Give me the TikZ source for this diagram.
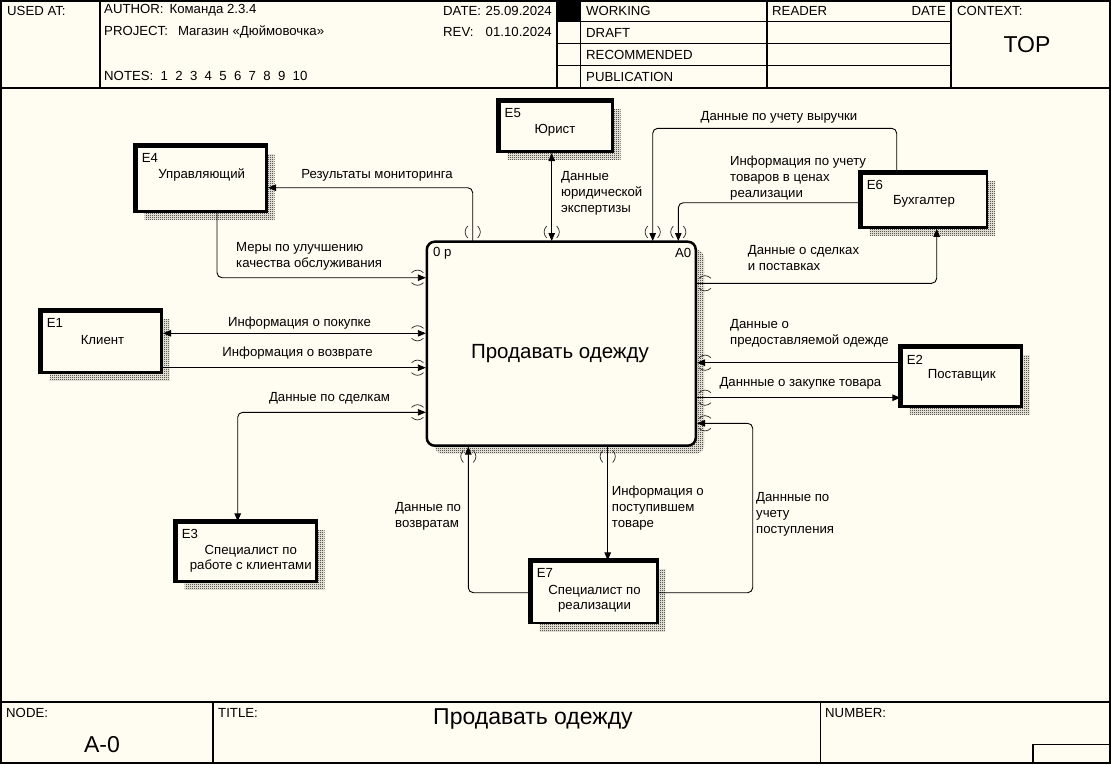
\documentclass[tikz,border=0pt]{standalone}
\usepackage{fontspec}
\setmainfont{Liberation Sans}
\usetikzlibrary{arrows.meta,patterns,calc}
\definecolor{bg}{RGB}{255,252,241}
\pgfdeclarepatternformonly{checker}{\pgfpointorigin}{\pgfpoint{2pt}{2pt}}{\pgfpoint{2pt}{2pt}}{%
  \pgfpathrectangle{\pgfpointorigin}{\pgfpoint{1pt}{1pt}}%
  \pgfpathrectangle{\pgfpoint{1pt}{1pt}}{\pgfpoint{1pt}{1pt}}%
  \pgfusepath{fill}}
\newcommand\entbox[7]{%
  \pgfmathsetmacro\ew{#4-#2}\pgfmathsetmacro\eh{#5-#3}%
  \pgfmathsetmacro\ecx{(#2+#4)/2}\pgfmathsetmacro\ecy{(#3+#5)/2}%
  \fill[shadowpat] (#2+8,#3+8) rectangle (#4+8,#5+8);
  \node[ent, minimum width=\ew pt, minimum height=\eh pt] (#1) at (\ecx,\ecy) {};
  \draw[line width=4.5pt] (#1.south west) -- (#1.north west) -- (#1.north east);
  \node[txt, anchor=west] (#1id) at (#2+5,#3+11.7) {#6};
  \node[txt, align=center] (#1name) at #7;
}
\newcommand\tunv[2]{%
  \draw[tun] (#1-5,#2-6) .. controls (#1-8.5,#2-2) and (#1-8.5,#2+2) .. (#1-5,#2+6);
  \draw[tun] (#1+5,#2-6) .. controls (#1+8.5,#2-2) and (#1+8.5,#2+2) .. (#1+5,#2+6);
}
\newcommand\tunh[2]{%
  \draw[tun] (#1-6,#2-5) .. controls (#1-2,#2-8.5) and (#1+2,#2-8.5) .. (#1+6,#2-5);
  \draw[tun] (#1-6,#2+5) .. controls (#1-2,#2+8.5) and (#1+2,#2+8.5) .. (#1+6,#2+5);
}
\begin{document}
\begin{tikzpicture}[x=1pt,y=-1pt,
  txt/.style={font=\fontsize{13.2}{15.8}\selectfont, inner sep=0pt},
  lbl/.style={txt, anchor=west, align=left},
  arr/.style={line width=0.9pt, rounded corners=5pt, -{Triangle[length=8pt,width=6.5pt]}},
  arrb/.style={line width=0.9pt, rounded corners=5pt, {Triangle[length=8pt,width=6.5pt]}-{Triangle[length=8pt,width=6.5pt]}},
  tun/.style={line width=0.7pt, black!85},
  ent/.style={draw, line width=2.5pt, fill=bg, inner sep=0pt},
  shadowpat/.style={pattern=checker, pattern color=black},
  frm/.style={line width=1.4pt},
  big/.style={font=\fontsize{23}{26}\selectfont, inner sep=0pt},
]
\useasboundingbox (0,0) rectangle (1111,764);
\fill[bg] (0,0) rectangle (1111,764);

% ---------- frame ----------
\draw[line width=2pt] (1,1) rectangle (1110,763);
\draw[frm] (0,88) -- (1111,88);
\draw[frm] (100,0) -- (100,88);
\draw[frm] (557,0) -- (557,88);
\draw[frm] (580.5,0) -- (580.5,88);
\draw[frm] (767,0) -- (767,88);
\draw[frm] (951,0) -- (951,88);
\fill (557,0) rectangle (580.5,21.5);
\draw[frm] (557,21.5) -- (951,21.5);
\draw[frm] (557,43.5) -- (951,43.5);
\draw[frm] (557,65.5) -- (951,65.5);

\node[txt,anchor=west] (usedat) at (7,10.5) {USED AT:};
\node[txt,anchor=west] (author) at (104,10.5) {AUTHOR:\hspace{6pt}Команда 2.3.4};
\node[txt,anchor=west] (project) at (104,31.5) {PROJECT:\hspace{10pt}Магазин «Дюймовочка»};
\node[txt,anchor=west] (notes) at (104,76) {NOTES:\ \ 1\ \ 2\ \ 3\ \ 4\ \ 5\ \ 6\ \ 7\ \ 8\ \ 9\ \ 10};
\node[txt,anchor=west] (datel) at (443,10.5) {DATE:};
\node[txt,anchor=east] (datev) at (552,10.5) {25.09.2024};
\node[txt,anchor=west] (revl) at (443,31.5) {REV:};
\node[txt,anchor=east] (revv) at (552,31.5) {01.10.2024};
\node[txt,anchor=west] (working) at (586,10.5) {WORKING};
\node[txt,anchor=west] (draft) at (586,32.5) {DRAFT};
\node[txt,anchor=west] (recom) at (586,54.5) {RECOMMENDED};
\node[txt,anchor=west] (publ) at (586,76.5) {PUBLICATION};
\node[txt,anchor=west] (reader) at (772,10.5) {READER};
\node[txt,anchor=east] (rdate) at (946,10.5) {DATE};
\node[txt,anchor=west] (context) at (957,10.5) {CONTEXT:};
\node[big] (top) at (1027,45) {TOP};

% ---------- footer ----------
\draw[frm] (0,702) -- (1111,702);
\draw[frm] (213,702) -- (213,764);
\draw[frm] (820.5,702) -- (820.5,764);
\draw[frm] (1033,764) -- (1033,744.5) -- (1111,744.5);
\node[txt,anchor=west] (nodel) at (6,713) {NODE:};
\node[txt,anchor=west] (titlel) at (218,713) {TITLE:};
\node[txt,anchor=west] (numberl) at (825,713) {NUMBER:};
\node[big] (nodev) at (102,745) {A-0};
\node[big] (titlev) at (533,719) {Продавать одежду};

% ---------- main activity ----------
\fill[shadowpat, rounded corners=8pt] (434.7,249.7) rectangle (704,453.7);
\node[draw, line width=2.5pt, rounded corners=8pt, fill=bg, minimum width=269pt, minimum height=204pt, inner sep=0pt] (a0) at (561.3,343.7) {};
\node[txt,anchor=west] (a0p) at (433,253) {0 р};
\node[txt,anchor=east] (a0n) at (691.5,253) {A0};
\node[font=\fontsize{20.5}{24}\selectfont, inner sep=0pt] (a0t) at (560,353.3) {Продавать одежду};

% ---------- entities ----------
\entbox{e4}{136.7}{146.7}{266.7}{211.7}{E4}{(201.7,175) {Управляющий}}
\entbox{e5}{499.5}{101.7}{612.5}{151.7}{E5}{(555,130) {Юрист}}
\entbox{e6}{861.7}{173.3}{987}{227.5}{E6}{(924,201.7) {Бухгалтер}}
\entbox{e1}{41.7}{311.7}{161.7}{372.3}{E1}{(102.5,340) {Клиент}}
\entbox{e2}{901.7}{347.7}{1021.7}{406.7}{E2}{(961.7,375) {Поставщик}}
\entbox{e3}{176.7}{522.7}{316.7}{581.7}{E3}{(250.8,558.7) {Специалист по\\работе с клиентами}}
\entbox{e7}{531.7}{561.7}{657.3}{623}{E7}{(594.5,598.7) {Специалист по\\реализации}}

% ---------- connection points ----------
\coordinate (c1a) at (472.7,241);   \coordinate (c1b) at (268,187.7);
\coordinate (c2a) at (217,213);     \coordinate (c2b) at (425.8,277.7);
\coordinate (c3a) at (551.7,153);   \coordinate (c3b) at (551.7,241);
\coordinate (c4a) at (896.7,172);   \coordinate (c4m) at (896.7,128.3); \coordinate (c4b) at (652.7,241);
\coordinate (c5a) at (860.4,202.7); \coordinate (c5b) at (678.3,241);
\coordinate (c6a) at (697,283.3);   \coordinate (c6b) at (936.7,228.8);
\coordinate (c7a) at (163,333.3);   \coordinate (c7b) at (425.8,333.3);
\coordinate (c8a) at (163,367.7);   \coordinate (c8b) at (425.8,367.7);
\coordinate (c9a) at (425.8,412.3); \coordinate (c9b) at (237.7,521.4);
\coordinate (c10a) at (900.4,362.7);\coordinate (c10b) at (697,362.7);
\coordinate (c11a) at (697,397.7);  \coordinate (c11b) at (900.4,397.7);
\coordinate (c12a) at (658.6,592.7);\coordinate (c12m) at (752.7,423.3); \coordinate (c12b) at (697,423.3);
\coordinate (c13a) at (607.7,446.5);\coordinate (c13b) at (607.7,560.4);
\coordinate (c14a) at (530.4,592.7);\coordinate (c14b) at (468.3,446.5);

% ---------- connectors ----------
\draw[arr] (c1a) |- (c1b);
\draw[arr] (c2a) |- (c2b);
\draw[arrb] (c3a) -- (c3b);
\draw[arr] (c4a) -- (c4m) -| (c4b);
\draw[arr] (c5a) -| (c5b);
\draw[arr] (c6a) -| (c6b);
\draw[arrb] (c7a) -- (c7b);
\draw[arr] (c8a) -- (c8b);
\draw[arrb] (c9a) -| (c9b);
\draw[arr] (c10a) -- (c10b);
\draw[arr] (c11a) -- (c11b);
\draw[arr] (c12a) -| (c12m) -- (c12b);
\draw[arr] (c13a) -- (c13b);
\draw[arr] (c14a) -| (c14b);

% ---------- tunnels ----------
\tunv{472.7}{232}
\tunv{551.7}{232}
\tunv{652.7}{232}
\tunv{678.3}{232}
\tunh{417.5}{277.7}
\tunh{417.5}{333.3}
\tunh{417.5}{367.7}
\tunh{417.5}{412.3}
\tunh{705}{283.3}
\tunh{705}{362.7}
\tunh{705}{397.7}
\tunh{705}{423.3}
\tunv{468.3}{456.5}
\tunv{607.7}{456.5}

% ---------- labels ----------
\node[txt] (l1) at (377,175) {Результаты мониторинга};
\node[lbl] (l2) at (236,256.5) {Меры по улучшению\\качества обслуживания};
\node[lbl] (l3) at (561,193.5) {Данные\\юридической\\экспертизы};
\node[txt] (l4) at (779,117.7) {Данные по учету выручки};
\node[lbl] (l5) at (730,178.3) {Информация по учету\\товаров в ценах\\реализации};
\node[lbl] (l6) at (747.7,258.3) {Данные о сделках\\и поставках};
\node[txt] (l7) at (299.5,323.3) {Информация о покупке};
\node[txt] (l8) at (297.5,353.3) {Информация о возврате};
\node[txt] (l9) at (329.5,398.3) {Данные по сделкам};
\node[lbl] (l10) at (730,333.5) {Данные о\\предоставляемой одежде};
\node[lbl] (l11) at (719.3,383.3) {Даннные о закупке товара};
\node[lbl] (l12) at (756,514.5) {Даннные по\\учету\\поступления};
\node[lbl] (l13) at (611.7,508) {Информация о\\поступившем\\товаре};
\node[lbl] (l14) at (395,516) {Данные по\\возвратам};
\end{tikzpicture}
\end{document}
